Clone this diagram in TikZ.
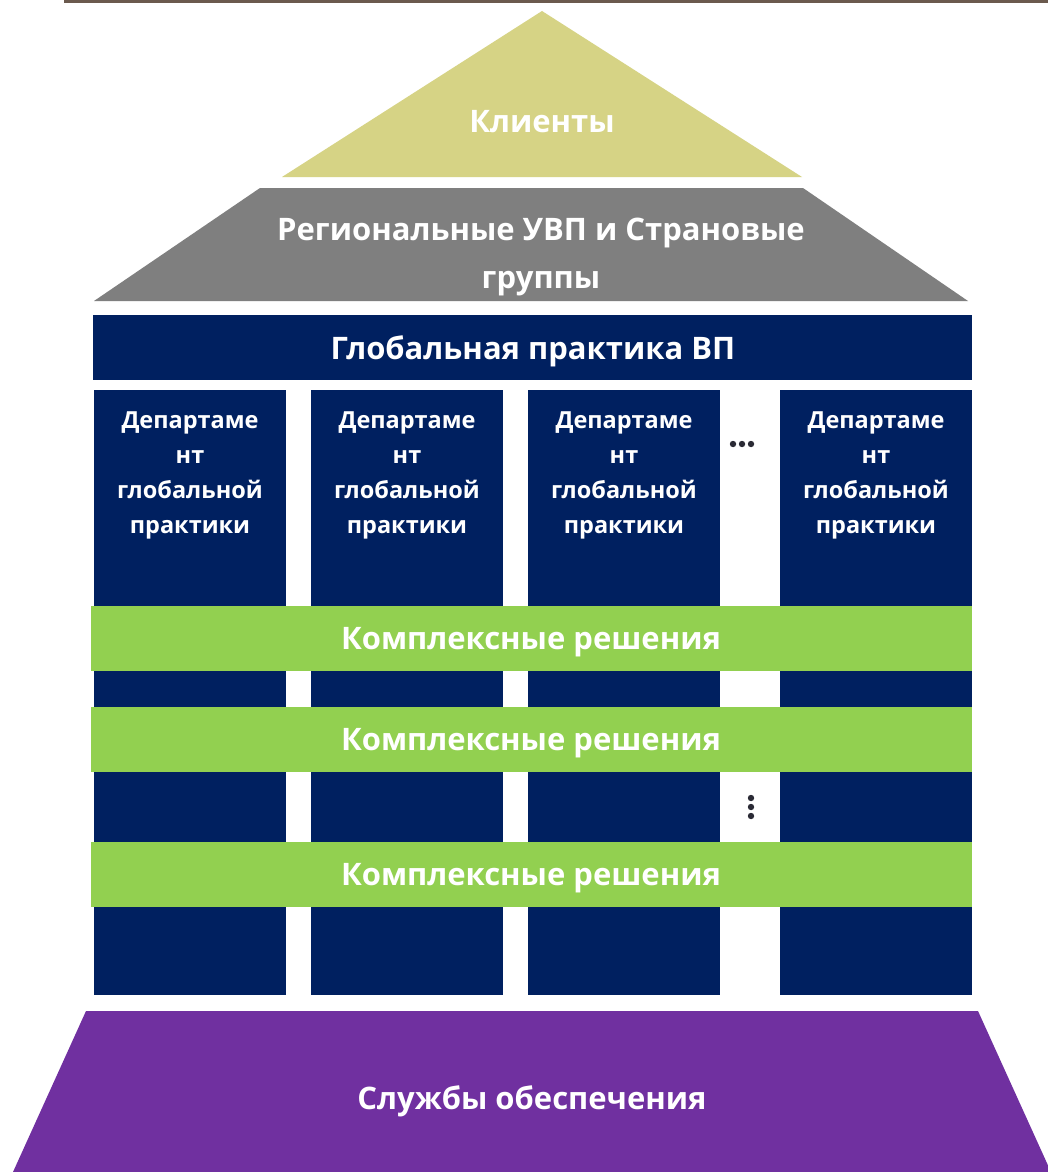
\documentclass[tikz,border=0pt]{standalone}
\usepackage{fontspec}
\setmainfont{Open Sans}
\begin{document}
\begin{tikzpicture}[x=1pt,y=-1pt,
  lbl/.style={text=white,font=\fontsize{31}{48}\selectfont\bfseries,align=center,inner sep=0pt},
  collbl/.style={text=white,font=\fontsize{23.5}{35}\selectfont\bfseries,align=center,inner sep=0pt,anchor=north},
  dotc/.style={fill=dotcol,draw=none}]
\definecolor{goldc}{HTML}{D6D385}
\definecolor{grayc}{HTML}{7F7F7F}
\definecolor{navyc}{HTML}{002060}
\definecolor{greenc}{HTML}{92D050}
\definecolor{purplec}{HTML}{7030A0}
\definecolor{linec}{HTML}{6B5A4E}
\definecolor{dotcol}{HTML}{2A2A35}
\useasboundingbox (0,0) rectangle (1048,1172);
\fill[white] (0,0) rectangle (1048,1172);
% top line
\fill[linec] (64,0) rectangle (1048,3.5);
% roof triangle
\fill[goldc] (542,11) -- (802,177) -- (282,177) -- cycle;
\node[lbl] (clients) at (542,122) {Клиенты};
% grey trapezoid
\fill[grayc] (260,188) -- (803,188) -- (968,301) -- (94,301) -- cycle;
\node[lbl] (regional) at (541,257) {Региональные УВП и Страновые\\группы};
% global bar
\fill[navyc] (93,315) rectangle (972,380);
\node[lbl] (global) at (533,351) {Глобальная практика ВП};
% columns
\foreach \xa/\xb/\n in {94/286/1,311/503/2,528/720/3,780/972/4}{
  \fill[navyc] (\xa,390) rectangle (\xb,995);
  \node[collbl] (col\n) at ({(\xa+\xb)/2},412) {Департаме\\нт\\глобальной\\практики};
}
% green bars
\foreach \ya/\yb/\n in {606/671/1,707/772/2,842/907/3}{
  \fill[greenc] (91,\ya) rectangle (972,\yb);
  \node[lbl] (sol\n) at (531,{(\ya+\yb)/2+4}) {Комплексные решения};
}
% dots
\foreach \x in {733,742,751}{\fill[dotc] (\x,444) circle (3.2);}
\foreach \y in {798,807,816}{\fill[dotc] (751,\y) circle (3.2);}
% base
\fill[purplec] (86,1011) -- (978,1011) -- (1051,1172) -- (13,1172) -- cycle;
\node[lbl] (support) at (532,1101) {Службы обеспечения};
\end{tikzpicture}
\end{document}
